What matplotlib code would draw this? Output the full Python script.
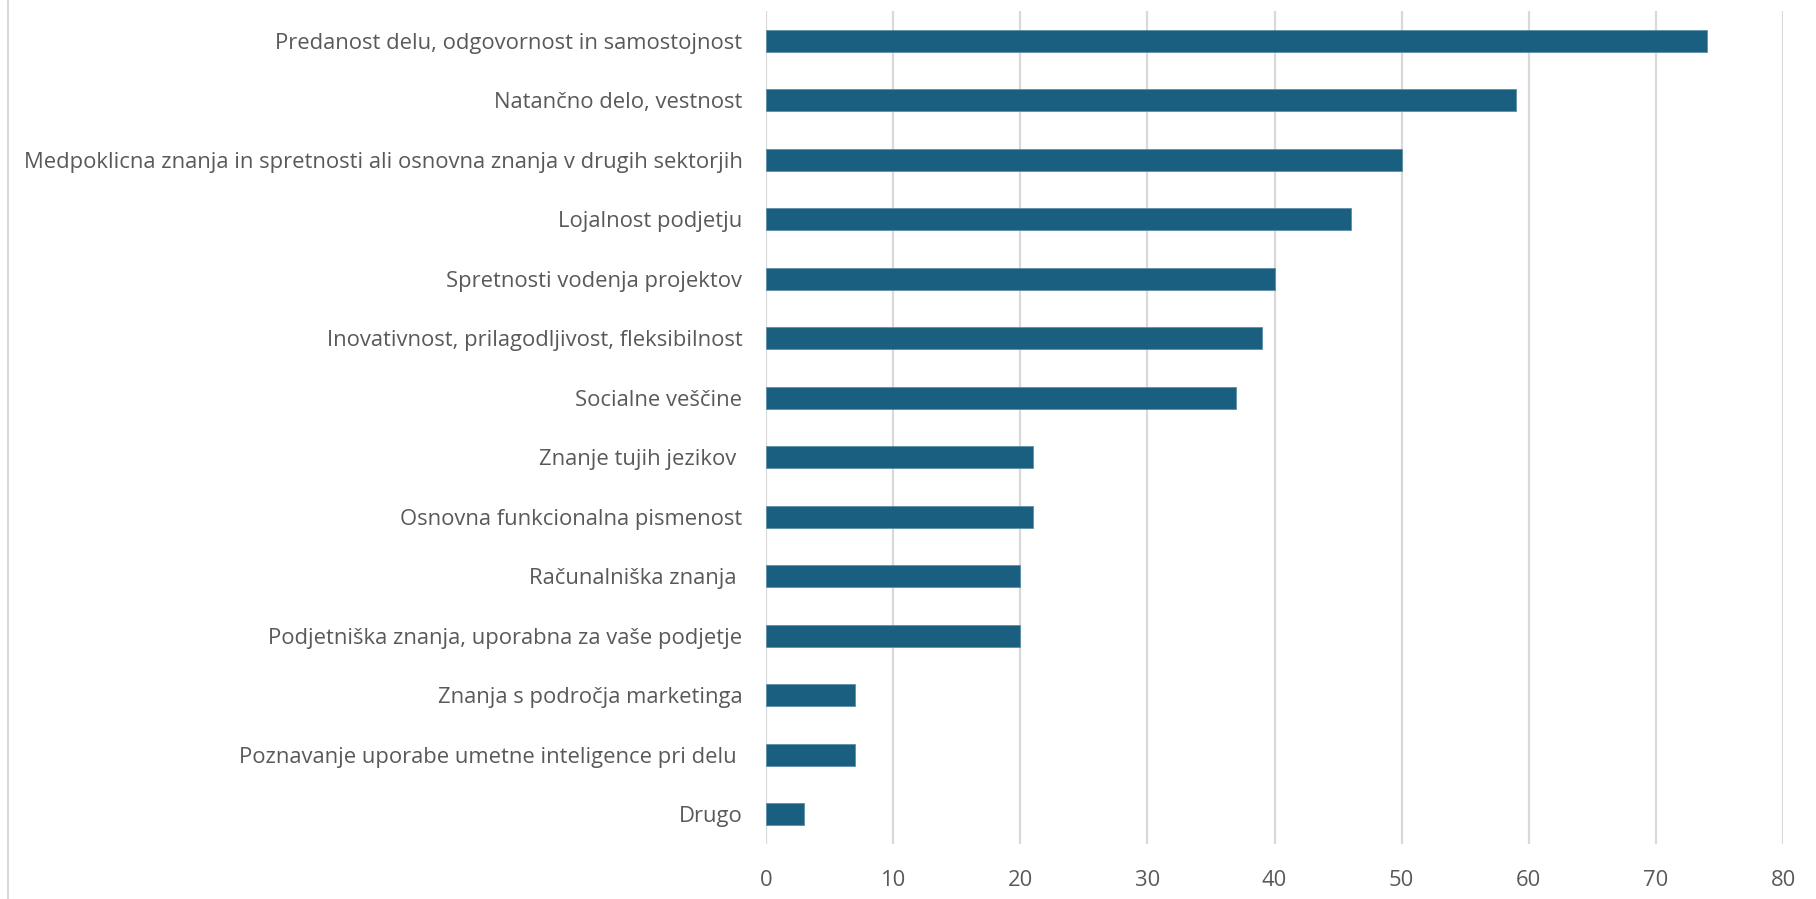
import matplotlib
matplotlib.use("Agg")
import matplotlib.pyplot as plt
from matplotlib.lines import Line2D

categories = [
    "Predanost delu, odgovornost in samostojnost",
    "Natančno delo, vestnost",
    "Medpoklicna znanja in spretnosti ali osnovna znanja v drugih sektorjih",
    "Lojalnost podjetju",
    "Spretnosti vodenja projektov",
    "Inovativnost, prilagodljivost, fleksibilnost",
    "Socialne veščine",
    "Znanje tujih jezikov ",
    "Osnovna funkcionalna pismenost",
    "Računalniška znanja ",
    "Podjetniška znanja, uporabna za vaše podjetje",
    "Znanja s področja marketinga",
    "Poznavanje uporabe umetne inteligence pri delu ",
    "Drugo",
]
values = [74, 59, 50, 46, 40, 39, 37, 21, 21, 20, 20, 7, 7, 3]
x_ticks = [0, 10, 20, 30, 40, 50, 60, 70, 80]

bar_color = "#1a5f80"
text_color = "#595959"
grid_color = "#d9d9d9"

plt.rcParams["font.family"] = ["Open Sans", "DejaVu Sans"]

W, H = 1816, 899
fig = plt.figure(figsize=(W / 100, H / 100), dpi=100)
ax = fig.add_axes([766 / W, 1 - 844 / H, (1783 - 766) / W, (844 - 11) / H])

ypos = list(range(len(categories)))
ax.barh(ypos, values, height=0.37, color=bar_color,
        edgecolor="#5b8fa8", linewidth=0.6, zorder=3)

ax.set_ylim(len(categories) - 0.5, -0.5)
ax.set_xlim(0, 80)
ax.set_xticks(x_ticks)
ax.set_xticklabels([str(t) for t in x_ticks])
ax.set_yticks(ypos)
ax.set_yticklabels(categories)

ax.tick_params(axis="both", length=0, labelsize=15.8, labelcolor=text_color)
ax.tick_params(axis="y", pad=17)
ax.tick_params(axis="x", pad=19)

ax.grid(axis="x", color=grid_color, linewidth=1.6, zorder=0)
ax.set_axisbelow(True)
for s in ax.spines.values():
    s.set_visible(False)

# thin frame line on the left edge of the chart area
fig.add_artist(Line2D([8 / W, 8 / W], [0, 1], transform=fig.transFigure,
                      color=grid_color, linewidth=1.5))

fig.savefig("out.png", dpi=100, facecolor="white")
